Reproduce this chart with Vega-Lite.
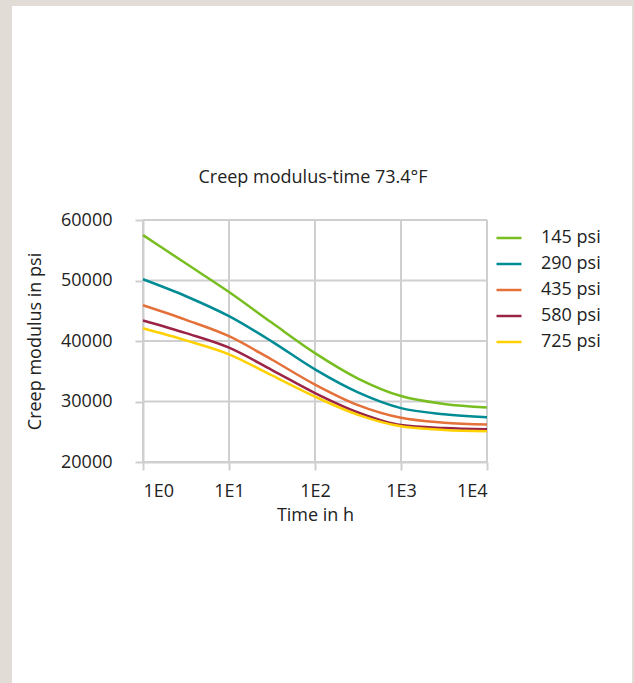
{
  "$schema": "https://vega.github.io/schema/vega-lite/v6.json",
  "autosize": "none",
  "width": 620,
  "height": 677,
  "padding": {"left": 12, "top": 6, "right": 2, "bottom": 0},
  "background": "#e1ddd6",
  "config": {
    "view": {"fill": "#ffffff", "stroke": null},
    "font": "Open Sans",
    "axis": {
      "labelFont": "Open Sans", "titleFont": "Open Sans",
      "labelFontSize": 18, "titleFontSize": 18,
      "labelColor": "#222222", "titleColor": "#222222",
      "titleFontWeight": "normal",
      "domainColor": "#cfcfcf", "domainWidth": 2,
      "tickColor": "#cfcfcf", "tickWidth": 2, "tickSize": 8,
      "grid": false
    },
    "legend": {
      "labelFont": "Open Sans", "labelFontSize": 18, "labelColor": "#222222"
    }
  },
  "title": {
    "text": "Creep modulus-time 73.4°F",
    "font": "Open Sans", "fontSize": 18, "fontWeight": "normal", "color": "#222222",
    "anchor": "middle", "frame": "group", "offset": 0, "baseline": "alphabetic",
    "dy": 195, "dx": -9
  },
  "datasets": {
    "curves": [
      {"t": 1, "stress": "145 psi", "E": 57500},
      {"t": 3.162, "stress": "145 psi", "E": 52800},
      {"t": 10, "stress": "145 psi", "E": 48100},
      {"t": 31.62, "stress": "145 psi", "E": 43000},
      {"t": 100, "stress": "145 psi", "E": 38000},
      {"t": 316.2, "stress": "145 psi", "E": 33800},
      {"t": 1000, "stress": "145 psi", "E": 30900},
      {"t": 3162, "stress": "145 psi", "E": 29600},
      {"t": 10000, "stress": "145 psi", "E": 29000},
      {"t": 1, "stress": "290 psi", "E": 50200},
      {"t": 3.162, "stress": "290 psi", "E": 47400},
      {"t": 10, "stress": "290 psi", "E": 44100},
      {"t": 31.62, "stress": "290 psi", "E": 39900},
      {"t": 100, "stress": "290 psi", "E": 35300},
      {"t": 316.2, "stress": "290 psi", "E": 31500},
      {"t": 1000, "stress": "290 psi", "E": 28900},
      {"t": 3162, "stress": "290 psi", "E": 27900},
      {"t": 10000, "stress": "290 psi", "E": 27400},
      {"t": 1, "stress": "435 psi", "E": 45900},
      {"t": 3.162, "stress": "435 psi", "E": 43500},
      {"t": 10, "stress": "435 psi", "E": 40800},
      {"t": 31.62, "stress": "435 psi", "E": 36900},
      {"t": 100, "stress": "435 psi", "E": 32800},
      {"t": 316.2, "stress": "435 psi", "E": 29400},
      {"t": 1000, "stress": "435 psi", "E": 27300},
      {"t": 3162, "stress": "435 psi", "E": 26500},
      {"t": 10000, "stress": "435 psi", "E": 26200},
      {"t": 1, "stress": "580 psi", "E": 43400},
      {"t": 3.162, "stress": "580 psi", "E": 41300},
      {"t": 10, "stress": "580 psi", "E": 38900},
      {"t": 31.62, "stress": "580 psi", "E": 35200},
      {"t": 100, "stress": "580 psi", "E": 31400},
      {"t": 316.2, "stress": "580 psi", "E": 28200},
      {"t": 1000, "stress": "580 psi", "E": 26100},
      {"t": 3162, "stress": "580 psi", "E": 25600},
      {"t": 10000, "stress": "580 psi", "E": 25400},
      {"t": 1, "stress": "725 psi", "E": 42100},
      {"t": 3.162, "stress": "725 psi", "E": 40100},
      {"t": 10, "stress": "725 psi", "E": 37800},
      {"t": 31.62, "stress": "725 psi", "E": 34300},
      {"t": 100, "stress": "725 psi", "E": 30800},
      {"t": 316.2, "stress": "725 psi", "E": 27800},
      {"t": 1000, "stress": "725 psi", "E": 25900},
      {"t": 3162, "stress": "725 psi", "E": 25300},
      {"t": 10000, "stress": "725 psi", "E": 25100}
    ],
    "decades": [
      {"t": 1}, {"t": 10}, {"t": 100}, {"t": 1000}, {"t": 10000}
    ],
    "levels": [
      {"E": 20000}, {"E": 30000}, {"E": 40000}, {"E": 50000}, {"E": 60000}
    ]
  },
  "layer": [
    {
      "data": {"name": "decades"},
      "mark": {"type": "rule", "color": "#cfcfcf", "strokeWidth": 2},
      "encoding": {
        "x": {"field": "t", "type": "quantitative"},
        "y": {"datum": 20000, "type": "quantitative"},
        "y2": {"datum": 60000}
      }
    },
    {
      "data": {"name": "levels"},
      "mark": {"type": "rule", "color": "#cfcfcf", "strokeWidth": 2},
      "encoding": {
        "y": {"field": "E", "type": "quantitative"},
        "x": {"datum": 1, "type": "quantitative"},
        "x2": {"datum": 10000}
      }
    },
    {
      "data": {"name": "curves"},
      "mark": {"type": "line", "interpolate": "monotone", "strokeWidth": 2.5},
      "encoding": {
        "x": {
          "field": "t", "type": "quantitative",
          "scale": {"type": "log", "domain": [1, 10000], "range": [131, 475], "nice": false},
          "axis": {
            "title": "Time in h", "values": [1, 10, 100, 1000, 10000],
            "labelExpr": "'1E' + round(log(datum.value) / LN10)",
            "offset": -221, "labelBaseline": "alphabetic", "labelPadding": 26,
            "titlePadding": 6
          }
        },
        "y": {
          "field": "E", "type": "quantitative",
          "scale": {"domain": [20000, 60000], "range": [456, 214], "nice": false, "zero": false},
          "axis": {
            "title": "Creep modulus in psi", "values": [20000, 30000, 40000, 50000, 60000],
            "format": "d", "offset": -131, "labelPadding": 23, "titlePadding": 16
          }
        },
        "color": {
          "field": "stress", "type": "nominal",
          "scale": {
            "domain": ["145 psi", "290 psi", "435 psi", "580 psi", "725 psi"],
            "range": ["#78be20", "#008c95", "#e4703a", "#9b2346", "#ffd100"]
          },
          "legend": {
            "title": null, "orient": "none", "legendX": 483, "legendY": 218,
            "symbolType": "stroke", "symbolSize": 625, "symbolStrokeWidth": 2.5,
            "labelOffset": 18, "rowPadding": 3, "padding": 0
          }
        }
      }
    }
  ]
}
